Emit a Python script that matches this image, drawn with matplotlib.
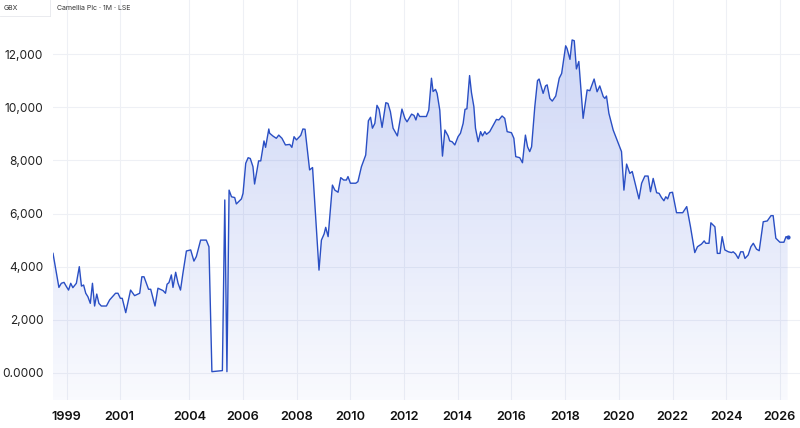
import matplotlib.pyplot as plt
import numpy as np
from matplotlib.patches import Polygon

plt.rcParams["font.family"] = ["Inter", "DejaVu Sans"]

# monthly closes, GBX
years = [
    1998.92, 1999.14, 1999.23, 1999.33, 1999.42, 1999.50, 1999.58, 1999.66, 1999.79, 1999.90,
    1999.98, 2000.06, 2000.14, 2000.22, 2000.31, 2000.39, 2000.47, 2000.55, 2000.63, 2000.72,
    2000.91, 2001.03, 2001.25, 2001.34, 2001.43, 2001.50, 2001.63, 2001.81, 2001.96, 2002.15,
    2002.23, 2002.31, 2002.48, 2002.56, 2002.72, 2002.83, 2003.02, 2003.11, 2003.17, 2003.24,
    2003.33, 2003.39, 2003.49, 2003.58, 2003.67, 2003.76, 2003.89, 2004.05, 2004.17, 2004.26,
    2004.42, 2004.63, 2004.73, 2004.84, 2005.23, 2005.32, 2005.40, 2005.48, 2005.57, 2005.69,
    2005.75, 2005.94, 2006.00, 2006.10, 2006.19, 2006.27, 2006.37, 2006.43, 2006.58, 2006.66,
    2006.78, 2006.84, 2006.96, 2006.99, 2007.12, 2007.24, 2007.33, 2007.45, 2007.58, 2007.74,
    2007.82, 2007.90, 2007.99, 2008.15, 2008.23, 2008.31, 2008.48, 2008.59, 2008.83, 2008.92,
    2009.02, 2009.08, 2009.17, 2009.33, 2009.42, 2009.54, 2009.64, 2009.75, 2009.85, 2009.91,
    2010.00, 2010.20, 2010.28, 2010.41, 2010.57, 2010.67, 2010.75, 2010.82, 2010.91, 2010.99,
    2011.07, 2011.18, 2011.32, 2011.40, 2011.49, 2011.59, 2011.75, 2011.92, 2012.03, 2012.11,
    2012.28, 2012.37, 2012.44, 2012.51, 2012.58, 2012.83, 2012.92, 2013.02, 2013.08, 2013.17,
    2013.23, 2013.33, 2013.43, 2013.52, 2013.64, 2013.70, 2013.79, 2013.89, 2014.01, 2014.10,
    2014.20, 2014.27, 2014.34, 2014.44, 2014.51, 2014.60, 2014.66, 2014.76, 2014.85, 2014.92,
    2015.01, 2015.07, 2015.19, 2015.34, 2015.44, 2015.53, 2015.65, 2015.75, 2015.84, 2016.00,
    2016.09, 2016.16, 2016.31, 2016.41, 2016.52, 2016.60, 2016.68, 2016.75, 2016.87, 2016.97,
    2017.03, 2017.09, 2017.18, 2017.27, 2017.33, 2017.43, 2017.52, 2017.65, 2017.78, 2017.87,
    2018.02, 2018.07, 2018.18, 2018.26, 2018.34, 2018.42, 2018.51, 2018.67, 2018.82, 2018.92,
    2019.08, 2019.19, 2019.29, 2019.42, 2019.48, 2019.54, 2019.63, 2019.79, 2020.10, 2020.19,
    2020.29, 2020.41, 2020.50, 2020.64, 2020.75, 2020.85, 2020.97, 2021.09, 2021.18, 2021.28,
    2021.41, 2021.50, 2021.59, 2021.68, 2021.75, 2021.82, 2021.90, 2022.00, 2022.15, 2022.38,
    2022.53, 2022.67, 2022.83, 2022.93, 2023.08, 2023.18, 2023.24, 2023.36, 2023.43, 2023.58,
    2023.67, 2023.77, 2023.85, 2023.95, 2024.08, 2024.20, 2024.26, 2024.35, 2024.45, 2024.54,
    2024.63, 2024.70, 2024.82, 2024.92, 2025.01, 2025.13, 2025.23, 2025.38, 2025.53, 2025.67,
    2025.75, 2025.85, 2026.00, 2026.15, 2026.23, 2026.29,
]
prices = [
    4500, 3220, 3375, 3410, 3250, 3120, 3375, 3210, 3375, 4000,
    3270, 3310, 3000, 2870, 2620, 3375, 2520, 2970, 2620, 2520,
    2520, 2750, 3000, 3000, 2810, 2810, 2270, 3120, 2910, 3000,
    3620, 3620, 3150, 3150, 2520, 3190, 3100, 3000, 3340, 3400,
    3690, 3220, 3790, 3375, 3120, 3750, 4590, 4630, 4210, 4380,
    5000, 5000, 4750, 50, 90, 6510, 50, 6880, 6630, 6600,
    6360, 6550, 6760, 7890, 8100, 8070, 7760, 7110, 7980, 7980,
    8730, 8490, 9180, 9020, 8910, 8830, 8950, 8830, 8580, 8600,
    8490, 8890, 8770, 8940, 9180, 9170, 7640, 7730, 3870, 5000,
    5230, 5480, 5130, 7070, 6880, 6800, 7350, 7260, 7260, 7390,
    7140, 7140, 7200, 7760, 8200, 9490, 9620, 9210, 9390, 10070,
    9920, 9240, 10170, 10140, 9830, 9210, 8920, 9930, 9580, 9450,
    9740, 9690, 9520, 9770, 9650, 9650, 9890, 11090, 10590, 10670,
    10520, 9890, 8160, 9140, 8920, 8730, 8700, 8580, 8890, 9020,
    9390, 9920, 9940, 11190, 10550, 10020, 9210, 8700, 9080, 8920,
    9080, 8980, 9080, 9360, 9540, 9520, 9670, 9580, 9080, 9040,
    8830, 8140, 8100, 7910, 8950, 8510, 8330, 8510, 10020, 11000,
    11060, 10840, 10520, 10800, 10840, 10330, 10230, 10420, 11090, 11270,
    12310, 12210, 11800, 12530, 12500, 11440, 11720, 9580, 10650, 10620,
    11060, 10580, 10800, 10400, 10330, 10420, 9770, 9140, 8330, 6880,
    7860, 7510, 7580, 7010, 6550, 7140, 7410, 7410, 6820, 7320,
    6780, 6760, 6600, 6480, 6630, 6550, 6780, 6800, 6030, 6030,
    6260, 5500, 4530, 4750, 4850, 4970, 4880, 4880, 5650, 5500,
    4500, 4500, 5130, 4630, 4560, 4530, 4560, 4480, 4310, 4560,
    4560, 4310, 4440, 4750, 4880, 4660, 4600, 5690, 5720, 5920,
    5920, 5070, 4920, 4920, 5130, 5100,
]

y_ticks = [0, 2000, 4000, 6000, 8000, 10000, 12000]
y_labels = ["0.0000", "2,000", "4,000", "6,000", "8,000", "10,000", "12,000"]
x_labels = ["1999", "2001", "2004", "2006", "2008", "2010", "2012",
            "2014", "2016", "2018", "2020", "2022", "2024", "2026"]
x_ticks = [1999.43, 2001.40, 2004, 2006, 2008, 2010, 2012,
           2014, 2016, 2018, 2020, 2022, 2024, 2026]

LINE = "#2a4fc4"
x = np.array(years)
y = np.array(prices)

fig = plt.figure(figsize=(8, 4.28), dpi=100)
ax = fig.add_axes([53 / 800, 28 / 428, 747 / 800, 400 / 428])
x0, x1 = x[0], 2026.75
y0, y1 = -1016, 14033
ax.set_xlim(x0, x1)
ax.set_ylim(y0, y1)

# gradient fill under the line, light blue fading to near white
grad = np.linspace(0, 1, 256)[:, None]
rgba = np.zeros((256, 1, 4))
rgba[..., 0] = 0.22
rgba[..., 1] = 0.36
rgba[..., 2] = 0.86
rgba[..., 3] = 0.03 + 0.22 * grad
poly = Polygon(np.column_stack([np.r_[x, x[-1], x[0]], np.r_[y, y0, y0]]),
               closed=True, facecolor="none", edgecolor="none")
ax.add_patch(poly)
img = ax.imshow(rgba, extent=(x0, x1, y0, 12800), origin="lower",
                aspect="auto", zorder=1)
img.set_clip_path(poly)

ax.plot(x, y, color=LINE, lw=1.0, zorder=3)
ax.plot(x[-1], y[-1], "o", color=LINE, ms=2, zorder=4)

ax.set_xticks(x_ticks, x_labels)
ax.set_yticks(y_ticks, y_labels)
ax.grid(color="#eef0f5", lw=0.8, zorder=0)
ax.set_axisbelow(True)
for s in ax.spines.values():
    s.set_visible(False)
ax.tick_params(length=0)
ax.tick_params(axis="y", pad=7, labelsize=8.6, labelcolor="#222222")
ax.tick_params(axis="x", pad=8, labelsize=9.2, labelcolor="#111111")
for t in ax.get_xticklabels():
    t.set_fontweight("semibold")

# header
fig.text(4 / 800, 1 - 8 / 428, "GBX", fontsize=5, color="#333333", va="center")
fig.text(57 / 800, 1 - 8 / 428, "Camellia Plc · 1M · LSE", fontsize=5,
         color="#333333", va="center")
fig.add_artist(plt.Line2D([50 / 800, 50 / 800], [1 - 16 / 428, 1], color="#e6e8ec", lw=0.6))
fig.add_artist(plt.Line2D([0, 50 / 800], [1 - 16 / 428, 1 - 16 / 428], color="#e6e8ec", lw=0.6))

fig.savefig("out.png", dpi=100)
